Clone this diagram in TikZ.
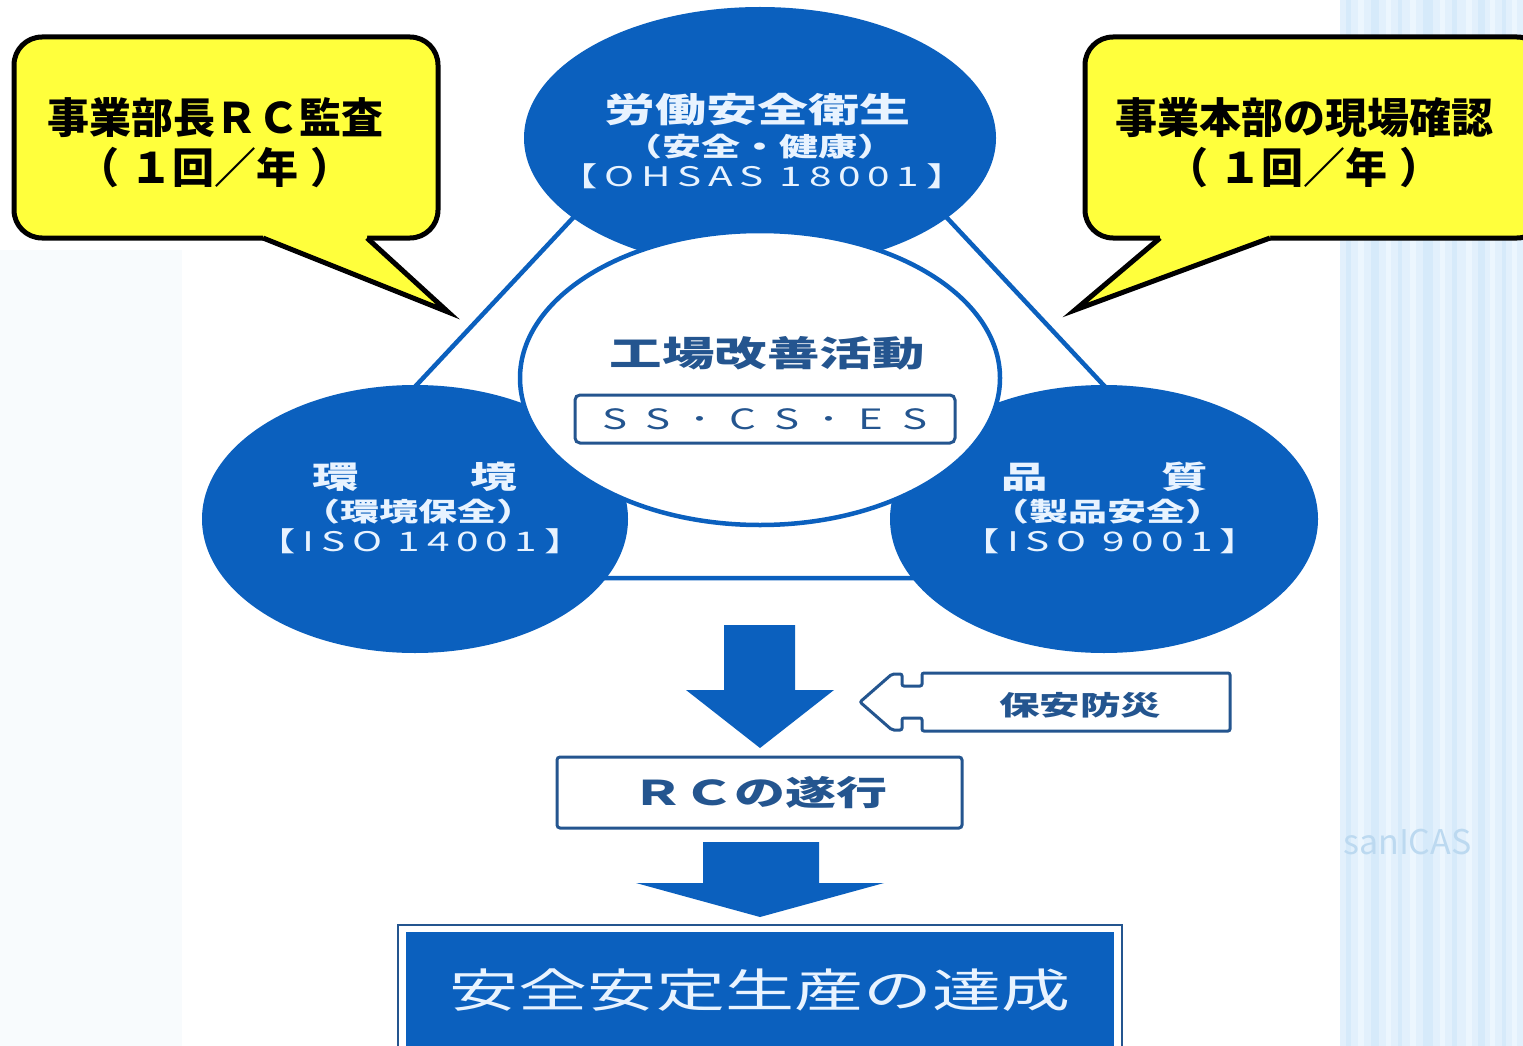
\documentclass[tikz,border=0pt]{standalone}
\usepackage{fontspec}
\usetikzlibrary{shapes.geometric}
\newfontfamily\jp{Noto Sans CJK JP}
\newfontfamily\jpw[FakeStretch=1.5]{Noto Sans CJK JP}
\newfontfamily\jpwl[FakeStretch=1.5,LetterSpace=25]{Noto Sans CJK JP}
\newfontfamily\jpws[FakeStretch=1.5,LetterSpace=68]{Noto Sans CJK JP}
\definecolor{cblue}{HTML}{0B60BE}
\definecolor{dblue}{HTML}{24558F}
\definecolor{ctext}{HTML}{E8F3FF}
\definecolor{cyel}{HTML}{FFFF3C}
\definecolor{leftbg}{HTML}{F8FBFD}
\definecolor{rightbg}{HTML}{E2F0FC}
\definecolor{stripeA}{HTML}{D6EAFA}
\definecolor{stripeB}{HTML}{ECF6FE}
\definecolor{wmark}{HTML}{BCD9F0}
\tikzset{
  bubble/.style={ellipse, fill=cblue, draw=none, inner sep=0pt},
  hub/.style={ellipse, fill=white, draw=cblue, line width=4.5pt, inner sep=0pt},
  tri/.style={draw=cblue, line width=4.5pt, line join=round},
  ttl/.style={text=ctext, inner sep=0pt, font=\jpw\bfseries\fontsize{34}{40}\selectfont},
  ttlb/.style={text=ctext, inner sep=0pt, font=\jpw\bfseries\fontsize{31}{36}\selectfont},
  subt/.style={text=ctext, inner sep=0pt, font=\jpw\bfseries\fontsize{26}{30}\selectfont},
  isot/.style={text=ctext, inner sep=0pt, font=\jpwl\fontsize{27}{30}\selectfont},
  hubt/.style={text=dblue, inner sep=0pt, font=\jpw\bfseries\fontsize{35}{40}\selectfont},
  sbox/.style={draw=dblue, line width=3pt, rounded corners=5pt, fill=white, text=dblue, inner sep=0pt, font=\jpws\fontsize{28}{30}\selectfont},
  rcbox/.style={draw=dblue, line width=3pt, rounded corners=3pt, fill=white, text=dblue, inner sep=0pt, font=\jpw\bfseries\fontsize{34}{40}\selectfont},
  bigarrow/.style={fill=cblue},
  hollow/.style={draw=dblue, line width=3pt, rounded corners=2pt, fill=white},
  smallt/.style={text=dblue, inner sep=0pt, font=\jpw\bfseries\fontsize{27}{30}\selectfont},
  goalout/.style={draw=dblue, line width=2.5pt, fill=white, inner sep=0pt},
  goalin/.style={fill=cblue, inner sep=0pt},
  goalt/.style={text=ctext, inner sep=0pt, font=\jpw\fontsize{46}{52}\selectfont},
  callbox/.style={draw=black, line width=5pt, fill=cyel, rounded corners=28pt, inner sep=0pt},
  calltail/.style={draw=black, line width=5pt, line join=miter},
  callt/.style={text=black, inner sep=0pt, align=center, font=\jp\bfseries\fontsize{42}{50}\selectfont}
}
\begin{document}
\begin{tikzpicture}[x=1pt,y=-1pt]
\useasboundingbox (0,0) rectangle (1523,1046);
\clip (0,0) rectangle (1523,1046);
\fill[white] (0,0) rectangle (1523,1046);
% background
\fill[leftbg] (0,250) rectangle (182,1046);
\fill[rightbg] (1340,0) rectangle (1523,1046);
\foreach \x/\w in {1346/5,1371/8,1398/4,1423/10,1452/5,1478/7,1502/4}{
  \fill[stripeA] (\x,0) rectangle ++(\w,1046);
}
\foreach \x/\w in {1358/6,1386/5,1410/6,1440/5,1466/6,1490/5,1512/5}{
  \fill[stripeB] (\x,0) rectangle ++(\w,1046);
}
\node[text=wmark, anchor=west, inner sep=0pt, font=\jp\fontsize{34}{36}\selectfont] (wm) at (1343,842) {sanICAS};

% triangle behind the circles
\coordinate (tA) at (760,18);
\coordinate (tB) at (236,578);
\coordinate (tC) at (1284,578);
\draw[tri] (tA) -- (tB) -- (tC) -- cycle;

% circles
\node[bubble, minimum width=472pt, minimum height=262pt] (top) at (760,138) {};
\node[bubble, minimum width=426pt, minimum height=268pt] (env) at (415,519) {};
\node[bubble, minimum width=428pt, minimum height=268pt] (qual) at (1104,519) {};
\node[hub, minimum width=480pt, minimum height=294pt] (hub) at (760,378) {};

% top circle text
\node[ttl] (topT) at (757,110) {労働安全衛生};
\node[subt] (topS) at (760,147) {（安全・健康）};
\node[isot] (topI) at (762,176) {【OHSAS 18001】};

% left circle text
\node[ttlb] (envT) at (415,477) {環\hspace{112pt}境};
\node[subt] (envS) at (418,512) {（環境保全）};
\node[isot] (envI) at (420,541) {【ISO 14001】};

% right circle text
\node[ttlb] (qualT) at (1105,477) {品\hspace{114pt}質};
\node[subt] (qualS) at (1107,512) {（製品安全）};
\node[isot] (qualI) at (1110,541) {【ISO 9001】};

% hub text
\node[hubt] (hubT) at (767,353) {工場改善活動};
\node[sbox, minimum width=380pt, minimum height=48pt] (ss) at (765,419) {SS･CS･ES};

% arrow 1
\coordinate (a1) at (760,625);
\fill[bigarrow] (a1) ++(-36,0) -- ++(71,0) -- ++(0,65) -- ++(39,0) -- (760,748) -- (686,690) -- (724,690) -- cycle;

% RC box
\node[rcbox, minimum width=405pt, minimum height=71pt] (rc) at (759.5,792.5) {ＲＣの遂行};

% hollow arrow (保安防災)
\draw[hollow] (1230,673) -- (922,673) -- (922,686) -- (902,686) -- (902,674) -- (892,674) -- (860,702) -- (892,730) -- (902,730) -- (902,718) -- (922,718) -- (922,731) -- (1230,731) -- cycle;
\node[smallt] (bosai) at (1080,705) {保安防災};

% arrow 2
\coordinate (a2) at (760,842);
\fill[bigarrow] (703,842) -- (819,842) -- (819,883) -- (884,883) -- (760,917) -- (636,883) -- (703,883) -- cycle;

% goal box
\node[goalout, minimum width=724pt, minimum height=150pt] (goalO) at (760,1000) {};
\node[goalin, minimum width=708pt, minimum height=150pt] (goalI) at (760,1007) {};
\node[goalt] (goalT) at (760,990) {安全安定生産の達成};

% left callout
\node[callbox, minimum width=424pt, minimum height=201pt] (cl) at (226,137.5) {};
\fill[cyel] (263,238) -- (448,312) -- (367,238) -- (367,228) -- (263,228) -- cycle;
\draw[calltail] (263,238) -- (448,312) -- (367,238);
\node[callt] (clT) at (215,143) {事業部長ＲＣ監査\\（\hspace{12pt}１回／年\hspace{12pt}）};

% right callout
\node[callbox, minimum width=460pt, minimum height=201pt] (cr) at (1315,137.5) {};
\fill[cyel] (1160,238) -- (1075,310) -- (1270,238) -- (1270,228) -- (1160,228) -- cycle;
\draw[calltail] (1160,238) -- (1075,310) -- (1270,238);
\node[callt] (crT) at (1304,143) {事業本部の現場確認\\（\hspace{12pt}１回／年\hspace{12pt}）};
\end{tikzpicture}
\end{document}
